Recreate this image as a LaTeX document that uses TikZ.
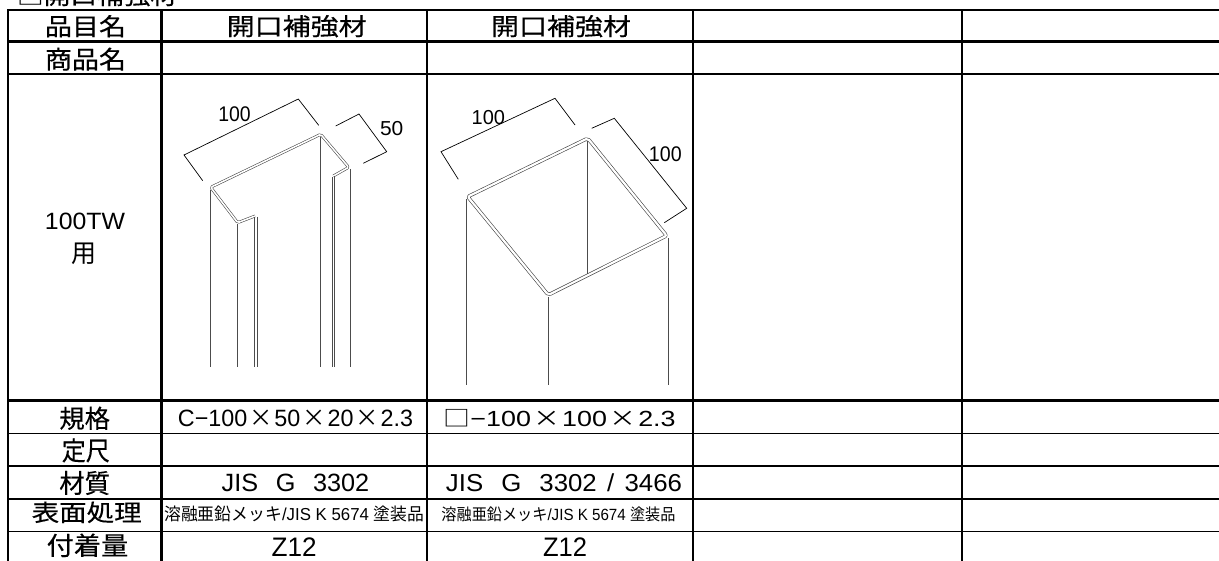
\documentclass[tikz,border=0pt]{standalone}
\usepackage{fontspec}
\usepackage{graphicx}
\setmainfont{Liberation Sans}
\newfontfamily\jp[FakeBold=0.3]{Noto Sans CJK JP}
\newfontfamily\jpn{Noto Sans CJK JP}
\newcommand{\fitbox}[3]{\resizebox*{#1pt}{#2pt}{#3}}
\newcommand{\tms}{\hspace{0.08em}{\jpn ×}\hspace{0.08em}}
\begin{document}
\begin{tikzpicture}[x=1pt,y=-1pt,
  txt/.style={inner sep=0pt,outer sep=0pt,anchor=center},
  thk/.style={line width=2.7pt,line cap=rect,draw=black},
  thn/.style={line width=1.2pt,draw=black},
  prof/.style={draw=black!75,line width=0.55pt,double=white,double distance=1.6pt,rounded corners=1.5pt,line join=round},
  sqprof/.style={draw=black!75,line width=0.6pt,double=white,double distance=2.2pt,rounded corners=2pt,line join=round},
  edgeln/.style={draw=black!70,line width=0.6pt},
  dimln/.style={draw=black,line width=0.7pt}]
\useasboundingbox (0,0) rectangle (1219,561);
\fill[white] (0,0) rectangle (1219,561);

% ---- table grid ----
\foreach \yy in {10,41.5,74,400.5} \draw[thk] (8,\yy) -- (1219,\yy);
\foreach \yy in {433.3,466,499,531.7} \draw[thn] (8,\yy) -- (1219,\yy);
\foreach \xx in {8,161.5,427,693,962} \draw[thk] (\xx,10) -- (\xx,561);

% ---- title ----
\node[txt,anchor=south] (title) at (97,6.3) {\fitbox{160}{22}{\jp □開口補強材}};

% ---- column 1 labels ----
\node[txt] (l1) at (85.5,26.2) {\fitbox{81}{22.3}{\jp 品目名}};
\node[txt] (l2) at (85.5,59.2) {\fitbox{81}{23}{\jp 商品名}};
\node[txt] (l3a) at (85,221.7) {\fitbox{80}{16.7}{100TW}};
\node[txt] (l3b) at (84.2,254.2) {\fitbox{25}{21.7}{\jpn 用}};
\node[txt] (l4) at (84.7,418.3) {\fitbox{50.7}{23.3}{\jp 規格}};
\node[txt] (l5) at (85.8,450.5) {\fitbox{48}{24}{\jp 定尺}};
\node[txt] (l6) at (84.7,483) {\fitbox{50.7}{24}{\jp 材質}};
\node[txt] (l7) at (86.7,512.3) {\fitbox{110}{21.5}{\jp 表面処理}};
\node[txt] (l8) at (87.5,545.3) {\fitbox{81.6}{23.5}{\jp 付着量}};

% ---- column 2 ----
\node[txt] (c2a) at (296.7,26.2) {\fitbox{140}{22.3}{\jp 開口補強材}};
\node[txt] (c2b) at (295.5,418.3) {\fitbox{235}{16.7}{C−100\tms 50\tms 20\tms 2.3}};
\node[txt] (c2c) at (295.5,482.8) {\fitbox{147.6}{17.7}{JIS\hspace{0.7em}G\hspace{0.7em}3302}};
\node[txt] (c2d) at (294.2,514.3) {\fitbox{260}{16}{{\jpn 溶融亜鉛メッキ}/JIS K 5674 {\jpn 塗装品}}};
\node[txt] (c2e) at (294.2,547.3) {\fitbox{45}{18.7}{Z12}};

% ---- column 3 ----
\node[txt] (c3a) at (561,26.2) {\fitbox{140}{22.3}{\jp 開口補強材}};
\node[txt] (c3b) at (559.6,418.3) {\fitbox{232}{17.5}{{\jpn □}−100\tms 100\tms 2.3}};
\node[txt] (c3c) at (564,482.8) {\fitbox{236}{18}{JIS\hspace{0.7em}G\hspace{0.7em}3302\hspace{0.4em}/\hspace{0.4em}3466}};
\node[txt] (c3d) at (558.5,514.3) {\fitbox{234}{15}{{\jpn 溶融亜鉛メッキ}/JIS K 5674 {\jpn 塗装品}}};
\node[txt] (c3e) at (565,547.3) {\fitbox{44}{18.7}{Z12}};

% ---- C channel drawing ----
\draw[prof] (255,216) -- (237.7,222.7) -- (210.7,187.3) -- (320.7,134.3) -- (348.7,167.3) -- (333.3,176);
\draw[edgeln] (210,190) -- (210,366.7);
\draw[edgeln] (237.3,224.5) -- (237.3,366.7);
\draw[edgeln] (254.7,217.5) -- (254.7,366.7);
\draw[edgeln] (256.9,216.8) -- (256.9,366.7);
\draw[edgeln] (320.7,137) -- (320.7,366.7);
\draw[edgeln] (332.3,177.5) -- (332.3,366.7);
\draw[edgeln] (334.7,176.5) -- (334.7,366.7);
\draw[edgeln] (349.8,169) -- (349.8,366.7);
\draw[dimln] (202.7,180.7) -- (184,155) -- (298.3,99) -- (318.7,125.3);
\draw[dimln] (335.7,126) -- (359,114) -- (386.7,151.7) -- (363.3,163.3);
\node[txt] (d1) at (234.5,114.2) {\fitbox{32.4}{15}{100}};
\node[txt] (d2) at (391.7,128.8) {\fitbox{23.3}{14.3}{50}};

% ---- square tube drawing ----
\draw[sqprof] (467.7,196.7) -- (587.7,138.3) -- (666.7,235.7) -- (548.3,295) -- cycle;
\draw[edgeln] (587,141.5) -- (587,274);
\draw[edgeln] (466.2,199.5) -- (466.2,385);
\draw[edgeln] (548.2,297.5) -- (548.2,385);
\draw[edgeln] (668,238.5) -- (668,385);
\draw[dimln] (458.3,179.3) -- (441,151.7) -- (555,98.3) -- (575,125);
\draw[dimln] (591.7,128.3) -- (614.3,118.3) -- (686.7,208.3) -- (664.3,222.7);
\node[txt] (d3) at (488.3,117.2) {\fitbox{33.3}{14.3}{100}};
\node[txt] (d4) at (665.3,154.2) {\fitbox{32.7}{15}{100}};
\end{tikzpicture}
\end{document}
